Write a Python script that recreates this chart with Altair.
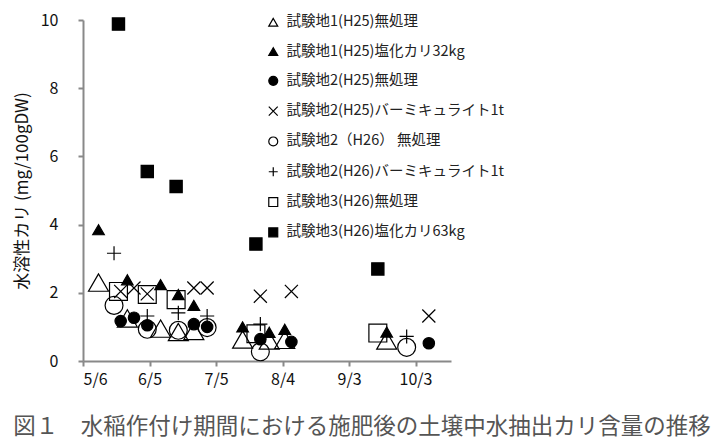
import altair as alt
import pandas as pd

series_names = [
    "試験地1(H25)無処理",
    "試験地1(H25)塩化カリ32kg",
    "試験地2(H25)無処理",
    "試験地2(H25)バーミキュライト1t",
    "試験地2（H26） 無処理",
    "試験地2(H26)バーミキュライト1t",
    "試験地3(H26)無処理",
    "試験地3(H26)塩化カリ63kg",
]

dates_site1_h25 = ["05-13", "05-26", "06-10", "06-18", "06-25", "07-17", "07-29", "08-05", "09-20"]
dates_site2_h25 = ["05-23", "05-29", "06-04", "06-25", "07-01", "07-25", "08-08", "10-09"]
dates_site2_h26 = ["05-20", "06-04", "06-18", "07-01", "07-25", "09-29"]
dates_site3_h26 = ["05-22", "06-04", "06-17", "07-23", "09-16"]

v_s1_none = [2.30, 1.25, 0.95, 0.85, 0.88, 0.63, 0.60, 0.62, 0.60]
v_s1_k32 = [3.85, 2.38, 2.24, 1.95, 1.63, 1.00, 0.84, 0.93, 0.85]
v_s2_none_h25 = [1.17, 1.27, 1.05, 1.08, 1.00, 0.64, 0.56, 0.52]
v_s2_verm_h25 = [2.04, 2.14, 1.97, 2.14, 2.14, 1.90, 2.04, 1.32]
v_s2_none_h26 = [1.63, 0.93, 0.90, 0.98, 0.27, 0.40]
v_s2_verm_h26 = [3.16, 1.32, 1.41, 1.32, 1.08, 0.72]
v_s3_none = [2.04, 1.95, 1.80, 0.80, 0.82]
v_s3_k63 = [9.88, 5.56, 5.12, 3.43, 2.70]

series_dates = [dates_site1_h25, dates_site1_h25, dates_site2_h25, dates_site2_h25,
                dates_site2_h26, dates_site2_h26, dates_site3_h26, dates_site3_h26]
series_values = [v_s1_none, v_s1_k32, v_s2_none_h25, v_s2_verm_h25,
                 v_s2_none_h26, v_s2_verm_h26, v_s3_none, v_s3_k63]

x_origin = "05-06"
x_tick_days = [0, 30, 60, 90, 120, 150]
x_tick_labels = ["5/6", "6/5", "7/5", "8/4", "9/3", "10/3"]
x_max_day = 166
y_ticks = [0, 2, 4, 6, 8, 10]

shapes = ["triangle-up", "triangle-up", "circle", "M-1,-1L1,1M-1,1L1,-1",
          "circle", "M-1,0L1,0M0,-1L0,1", "square", "square"]
fills = ["transparent", "black", "black", "transparent",
         "transparent", "transparent", "transparent", "black"]
strokes = ["black"] * 8
sizes = [400, 135, 130, 170, 320, 200, 320, 150]

origin = pd.Timestamp("2013-" + x_origin)
rows = []
for i, (name, ds, vs) in enumerate(zip(series_names, series_dates, series_values)):
    for d, v in zip(ds, vs):
        day = (pd.Timestamp("2013-" + d) - origin).days
        rows.append({"series": name, "day": day, "value": v, "sz": sizes[i], "idx": i})
df = pd.DataFrame(rows)

font = "Noto Sans CJK JP"
label_expr = "[" + ",".join("'" + s + "'" for s in x_tick_labels) + "][round(datum.value / 30)]"

legend = alt.Legend(title=None, orient="none", legendX=183, legendY=-5,
                    symbolStrokeColor="black", symbolStrokeWidth=1.2)

points = alt.Chart(df).mark_point(filled=True, strokeWidth=1.2, opacity=1).encode(
    x=alt.X("day:Q",
            scale=alt.Scale(domain=[0, x_max_day], nice=False, zero=False),
            axis=alt.Axis(values=x_tick_days, labelExpr=label_expr, title=None, grid=False,
                          labelOverlap=False)),
    y=alt.Y("value:Q", scale=alt.Scale(domain=[0, 10], nice=False),
            axis=alt.Axis(values=y_ticks, title="水溶性カリ (mg/100gDW)", grid=False)),
    shape=alt.Shape("series:N", scale=alt.Scale(domain=series_names, range=shapes), legend=legend),
    fill=alt.Fill("series:N", scale=alt.Scale(domain=series_names, range=fills), legend=legend),
    stroke=alt.Stroke("series:N", scale=alt.Scale(domain=series_names, range=strokes), legend=legend),
    size=alt.Size("sz:Q", scale=None),
    order=alt.Order("idx:Q"),
)

chart = points.properties(
    width=368,
    height=341,
    padding={"left": 5, "top": 4, "right": 2, "bottom": 0},
    title=alt.TitleParams(
        "図１　水稲作付け期間における施肥後の土壌中水抽出カリ含量の推移",
        orient="bottom", anchor="start", frame="bounds",
        fontSize=22.5, font=font, fontWeight="normal", color="#555555",
        offset=29,
    ),
).configure_view(stroke=None).configure_axis(
    domainColor="#898989", domainWidth=2, tickColor="#898989", tickWidth=2, tickSize=5,
    labelFont=font, labelFontSize=16, labelColor="#111111",
    titleFont=font, titleFontSize=17, titleFontWeight="normal", titleColor="#111111",
).configure_axisY(labelPadding=20, titlePadding=9).configure_axisX(labelPadding=5).configure_legend(
    labelFont=font, labelFontSize=14.5, labelColor="#222222", symbolSize=80,
    rowPadding=14.3, labelOffset=6, padding=0, labelLimit=400,
)

chart.save("out.html", embed_options={"renderer": "svg", "actions": False})
